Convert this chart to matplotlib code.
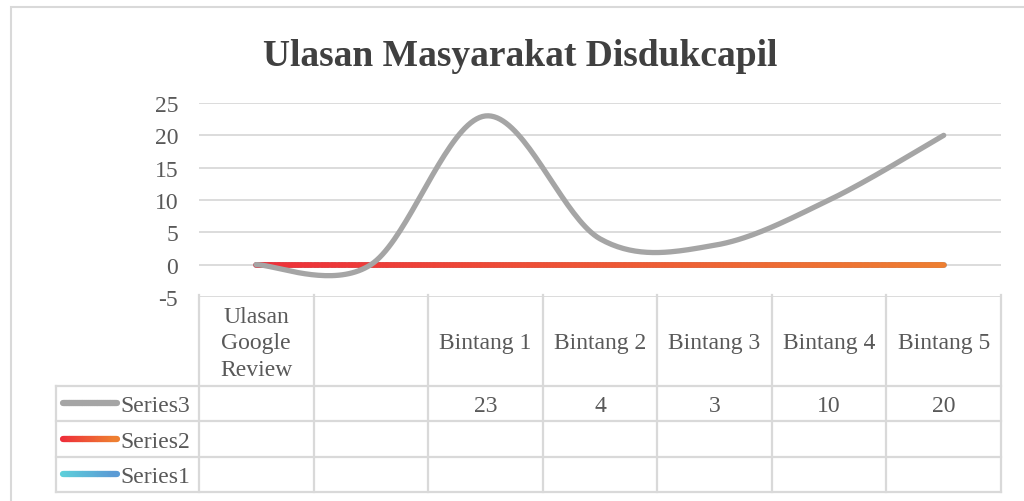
import matplotlib.pyplot as plt
import numpy as np
from matplotlib.collections import LineCollection
from matplotlib.colors import to_rgb
from matplotlib.patches import Rectangle

categories = ['Ulasan\nGoogle\nReview', '', 'Bintang 1', 'Bintang 2',
              'Bintang 3', 'Bintang 4', 'Bintang 5']
series3 = [None, None, 23, 4, 3, 10, 20]
series2 = [None, None, None, None, None, None, None]
series1 = [None, None, None, None, None, None, None]
series_names = ['Series3', 'Series2', 'Series1']
y_ticks = [-5, 0, 5, 10, 15, 20, 25]
title = 'Ulasan Masyarakat Disdukcapil'

plt.rcParams['font.family'] = ['Liberation Serif', 'DejaVu Serif']

W, H = 1024, 502
GRID = '#D9D9D9'
TXT = '#595959'
FS = 17


def fx(px):
    return px / W


def fy(py):
    return 1 - py / H


def as_zero(vals):
    # Excel plots empty cells as zero
    return np.array([0 if v is None else v for v in vals], dtype=float)


def smooth(vals, n=40):
    # Catmull-Rom style smoothing (like Excel's "smoothed line")
    y = as_zero(vals)
    x = np.arange(len(y), dtype=float)
    pts = np.column_stack([x, y])
    pad = np.vstack([pts[:1], pts, pts[-1:]])
    t = np.linspace(0, 1, n)[:, None]
    out = []
    for i in range(len(pts) - 1):
        p0, p3 = pts[i], pts[i + 1]
        b1 = p0 + (pad[i + 2] - pad[i]) / 6
        b2 = p3 - (pad[i + 3] - pad[i + 1]) / 6
        seg = ((1 - t) ** 3) * p0 + 3 * ((1 - t) ** 2) * t * b1 \
            + 3 * (1 - t) * t ** 2 * b2 + t ** 3 * p3
        out.append(seg if i == 0 else seg[1:])
    out = np.vstack(out)
    return out[:, 0], out[:, 1]


def gradient_line(ax, x, y, c0, c1, lw, zorder, **kw):
    pts = np.column_stack([x, y])
    segs = np.stack([pts[:-1], pts[1:]], axis=1)
    f = np.linspace(0, 1, len(segs))[:, None]
    cols = (1 - f) * np.array(to_rgb(c0)) + f * np.array(to_rgb(c1))
    lc = LineCollection(segs, colors=cols, linewidths=lw, capstyle='round',
                        joinstyle='round', zorder=zorder, **kw)
    ax.add_collection(lc)
    return lc


fig = plt.figure(figsize=(W / 100, H / 100), dpi=100)

# outer chart border (cropped on right and bottom)
fig.patches.append(Rectangle((fx(11), fy(540)), fx(1040 - 11), fy(8) - fy(540),
                             transform=fig.transFigure, fill=False,
                             edgecolor=GRID, lw=1.5))

fig.text(fx(520), fy(56), title, ha='center', va='center',
         fontsize=27, fontweight='bold', color='#404040')

# main plot area
left, right, top, bottom = 199, 1001, 104, 298
ax = fig.add_axes([fx(left), fy(bottom), fx(right - left), fy(top) - fy(bottom)])
n = len(categories)
ax.set_xlim(-0.5, n - 0.5)
ax.set_ylim(-5, 25)
ax.set_yticks(y_ticks)
ax.set_yticklabels([str(v) for v in y_ticks], fontsize=FS, color=TXT)
ax.tick_params(axis='y', length=0, pad=15)
ax.set_xticks([])
for s in ax.spines.values():
    s.set_visible(False)
for v in y_ticks:
    ax.axhline(v, color=GRID, lw=1.3, zorder=0)

x1, y1 = smooth(series1)
gradient_line(ax, x1, y1, '#5DD0DA', '#5B9BD5', 4, 2)
x2, y2 = smooth(series2)
gradient_line(ax, x2, y2, '#EE2E3A', '#EE7F31', 4, 3)
x3, y3 = smooth(series3)
ax.plot(x3, y3, color='#A5A5A5', lw=3.8, solid_capstyle='round', zorder=4)

# data table below the plot
t_left, t_bottom = 56, 493
tax = fig.add_axes([fx(t_left), fy(t_bottom), fx(right - t_left), fy(bottom) - fy(t_bottom)])
cat_w = (right - left) / n
x_min = -0.5 - (left - t_left) / cat_w
tax.set_xlim(x_min, n - 0.5)
header_h = 89 / 35.5
tax.set_ylim(0, 3 + header_h)
tax.axis('off')

lk = dict(color=GRID, lw=1.6, clip_on=False)
# vertical lines
for i in range(n + 1):
    tax.plot([i - 0.5, i - 0.5], [0, 3 + header_h + 0.05], **lk)
tax.plot([x_min, x_min], [0, 3], **lk)
# horizontal lines
for r in range(4):
    tax.plot([x_min, n - 0.5], [r, r], **lk)

# header labels
for i, c in enumerate(categories):
    tax.text(i, 3 + header_h / 2 - 0.04, c, ha='center', va='center', fontsize=FS,
             color=TXT, linespacing=1.33)

# rows with legend keys
table_rows = [series3, series2, series1]
key_colors = [('#A5A5A5', '#A5A5A5'), ('#EE2E3A', '#EE7F31'), ('#5DD0DA', '#5B9BD5')]
kx0 = x_min + (63 - t_left) / cat_w
kx1 = x_min + (117 - t_left) / cat_w
tx = x_min + (120 - t_left) / cat_w
for r, (name, vals, (c0, c1)) in enumerate(zip(series_names, table_rows, key_colors)):
    yc = 2.5 - r
    kx = np.linspace(kx0, kx1, 30)
    gradient_line(tax, kx, np.full_like(kx, yc), c0, c1, 4.5, 3, clip_on=False)
    tax.text(tx, yc - 0.07, name, ha='left', va='center', fontsize=FS, color=TXT)
    for i, v in enumerate(vals):
        if v is not None:
            tax.text(i, yc - 0.07, str(v), ha='center', va='center', fontsize=FS, color=TXT)

fig.savefig('out.png', dpi=100)
